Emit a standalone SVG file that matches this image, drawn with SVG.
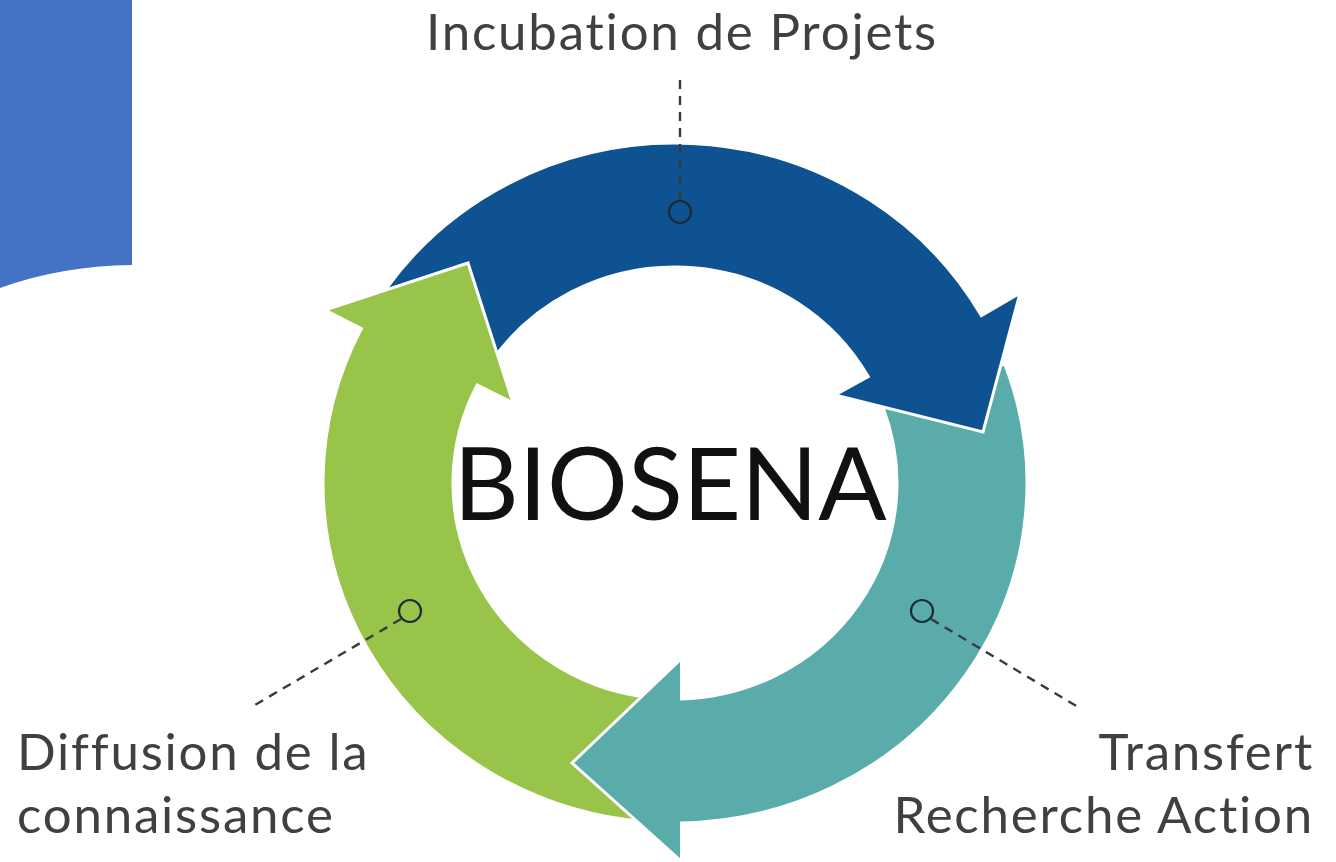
<svg xmlns="http://www.w3.org/2000/svg" width="1336" height="862" viewBox="0 0 1336 862">
  <style>
    .lbl { font-family: Lato, "Noto Sans", "Liberation Sans", sans-serif; font-size: 51px; fill: #404040; letter-spacing: 1.8px; font-variant-ligatures: none; font-feature-settings: "liga" 0; }
    .arrow { stroke: #ffffff; stroke-width: 3; stroke-linejoin: miter; }
    .lead { fill: none; stroke: #3a3a3a; stroke-width: 2.4; stroke-dasharray: 9 7; }
    .dot { fill: none; stroke: #1c2b38; stroke-width: 2.2; }
  </style>
  <rect x="0" y="0" width="1336" height="862" fill="#ffffff"/>
  <path id="corner" d="M0 0 H132 V265 Q 60 266 0 288 Z" fill="#4472C4"/>

  <g id="cycle">
    <g id="teal-arrow">
      <path class="arrow" fill="#5AACAB" d="M 1004.7 363.9 A 352 340 0 0 1 680 823 L 680 860 L 572 763 L 680 660 L 680 699 A 222 216 0 0 0 882.9 407.4 Z"/>
    </g>
    <g id="blue-arrow">
      <path class="arrow" fill="#0E5291" d="M 386.7 288 A 352 340 0 0 1 981.3 315.6 L 1020 293 L 983 432 L 835 395 L 868.2 376.6 A 222 216 0 0 0 493.1 359.1 Z"/>
    </g>
    <g id="green-arrow">
      <path class="arrow" fill="#99C44A" d="M 644.3 821.7 A 352 340 0 0 1 361.4 328.6 L 325 310 L 468 263 L 513 403 L 477.2 384.9 A 222 216 0 0 0 655.6 698.2 Z"/>
    </g>
    <g id="teal-head">
      <path fill="#5AACAB" d="M 680 860 L 572 763 L 680 660 Z"/>
      <polyline points="680,660 572,763 680,860" fill="none" stroke="#ffffff" stroke-width="3"/>
    </g>
  </g>

  <g id="center">
    <text x="670" y="520" text-anchor="middle" font-family="Lato, 'Noto Sans', 'Liberation Sans', sans-serif" font-size="101" fill="#111111">BIOSENA</text>
  </g>

  <g id="connectors">
    <line class="lead" x1="680" y1="80" x2="680" y2="201"/>
    <line class="lead" x1="401" y1="619" x2="255" y2="705"/>
    <line class="lead" x1="931" y1="619" x2="1078" y2="707"/>
  </g>

  <g id="markers">
    <circle class="dot" cx="680" cy="212" r="11"/>
    <circle class="dot" cx="410" cy="611" r="11"/>
    <circle class="dot" cx="922" cy="611" r="11"/>
  </g>

  <g id="label-top">
    <text class="lbl" x="682" y="50" text-anchor="middle">Incubation de Projets</text>
  </g>
  <g id="label-left">
    <text class="lbl" x="17" y="770">Diffusion de la</text>
    <text class="lbl" x="17" y="833">connaissance</text>
  </g>
  <g id="label-right">
    <text class="lbl" x="1314" y="770" text-anchor="end">Transfert</text>
    <text class="lbl" x="1314" y="833" text-anchor="end">Recherche Action</text>
  </g>
</svg>
